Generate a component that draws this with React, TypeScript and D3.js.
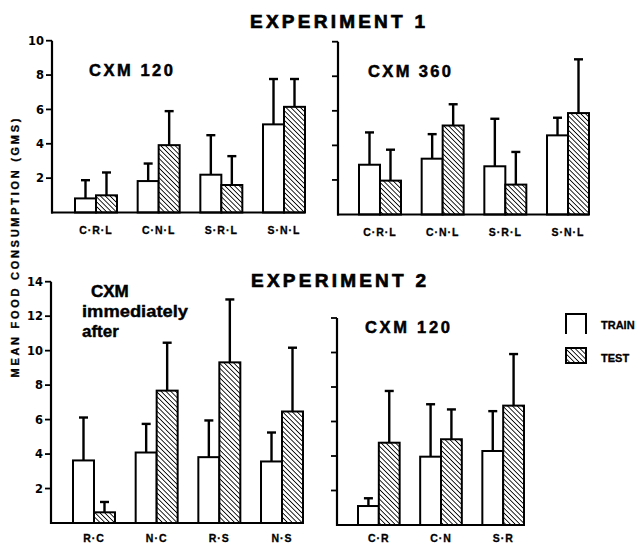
import React from "react";
import * as d3 from "d3";

// ---------- DATA ----------
const cats1 = ["C·R·L", "C·N·L", "S·R·L", "S·N·L"];
const e1a_train = [0.82, 1.83, 2.2, 5.13];
const e1a_trainUp = [1.88, 2.85, 4.5, 7.77];
const e1a_test = [1.0, 3.92, 1.6, 6.15];
const e1a_testUp = [2.33, 5.9, 3.28, 7.77];

const e1b_train = [2.88, 3.23, 2.79, 4.58];
const e1b_trainUp = [4.75, 4.65, 5.54, 5.6];
const e1b_test = [1.96, 5.15, 1.73, 5.87];
const e1b_testUp = [3.75, 6.38, 3.62, 8.98];

const cats2a = ["R·C", "N·C", "R·S", "N·S"];
const e2a_train = [3.63, 4.09, 3.82, 3.57];
const e2a_trainUp = [6.12, 5.75, 5.95, 5.25];
const e2a_test = [0.62, 7.68, 9.32, 6.47];
const e2a_testUp = [1.22, 10.46, 12.97, 10.17];

const cats2b = ["C·R", "C·N", "S·R"];
const e2b_train = [1.1, 3.96, 4.29];
const e2b_trainUp = [1.55, 7.0, 6.6];
const e2b_test = [4.77, 4.97, 6.92];
const e2b_testUp = [7.77, 6.7, 9.91];

const ticks1 = [2, 4, 6, 8, 10];
const ticks2a = [2, 4, 6, 8, 10, 12, 14];
const ticks2b = [2, 4, 6, 8, 10, 12];

const FONT = "'Liberation Sans', Arial, Helvetica, sans-serif";
const FONT2 = "'DejaVu Sans', 'Liberation Sans', sans-serif";

type PanelProps = {
  cats: string[];
  train: number[];
  trainUp: number[];
  test: number[];
  testUp: number[];
  axisX: number;
  axisEnd: number;
  barStart: number;
  barEnd: number;
  y0: number;
  yTop: number;
  yMax: number;
  ticks: number[];
  showLabels: boolean;
  labelY: number;
};

function Panel(p: PanelProps) {
  const y = d3.scaleLinear().domain([0, p.yMax]).range([p.y0, p.yTop]);
  const x = d3
    .scaleBand<string>()
    .domain(p.cats)
    .range([p.barStart, p.barEnd])
    .paddingInner(0.33)
    .paddingOuter(0);
  const bw = x.bandwidth() / 2;
  const cap = 4.5;
  const elems: React.ReactNode[] = [];
  p.cats.forEach((c, i) => {
    const gx = x(c)!;
    const series = [
      { v: p.train[i], up: p.trainUp[i], fill: "#fff", x0: gx },
      { v: p.test[i], up: p.testUp[i], fill: "url(#hatch)", x0: gx + bw },
    ];
    series.forEach((s, j) => {
      const cx = s.x0 + bw / 2;
      elems.push(
        <g key={c + j}>
          <line x1={cx} x2={cx} y1={y(s.v)} y2={y(s.up)} stroke="#000" strokeWidth={2.4} />
          <line x1={cx - cap} x2={cx + cap} y1={y(s.up)} y2={y(s.up)} stroke="#000" strokeWidth={2.4} />
          <rect
            x={s.x0}
            y={y(s.v)}
            width={bw}
            height={p.y0 - y(s.v)}
            fill={s.fill}
            stroke="#000"
            strokeWidth={2}
          />
        </g>
      );
    });
    elems.push(
      <text
        key={c + "lab"}
        x={gx + x.bandwidth() / 2}
        y={p.labelY}
        textAnchor="middle"
        fontFamily={FONT}
        fontWeight="bold"
        fontSize={10.5}
        letterSpacing={1}
        stroke="#000"
        strokeWidth={0.3}
      >
        {c}
      </text>
    );
  });
  return (
    <g>
      {elems}
      <line x1={p.axisX} x2={p.axisX} y1={p.y0 + 1} y2={y(p.yMax)} stroke="#000" strokeWidth={2.2} />
      <line x1={p.axisX - 1} x2={p.axisEnd} y1={p.y0} y2={p.y0} stroke="#000" strokeWidth={2.2} />
      {p.ticks.map((t) => (
        <g key={"t" + t}>
          <line x1={p.axisX - 6} x2={p.axisX} y1={y(t)} y2={y(t)} stroke="#000" strokeWidth={1.8} />
          {p.showLabels && (
            <text
              x={p.axisX - 8}
              y={y(t)}
              dy="0.36em"
              textAnchor="end"
              fontFamily={FONT2}
              fontWeight="bold"
              fontSize={11.5}
            >
              {t}
            </text>
          )}
        </g>
      ))}
    </g>
  );
}

export default function App() {
  const T = { fontFamily: FONT, fontWeight: "bold" as const };
  return (
    <svg width={644} height={545} style={{ position: "absolute", left: 0, top: 0, background: "#fff" }}>
      <defs>
        <pattern id="hatch" width={3.4} height={3.4} patternUnits="userSpaceOnUse" patternTransform="rotate(-45)">
          <rect width={3.4} height={3.4} fill="#fff" />
          <line x1={0} y1={0} x2={0} y2={3.4} stroke="#000" strokeWidth={1.7} />
        </pattern>
      </defs>
      <rect width={644} height={545} fill="#fff" />

      <text x={250} y={28} {...T} fontSize={19} textLength={175} lengthAdjust="spacing" stroke="#000" strokeWidth={0.7}>
        EXPERIMENT 1
      </text>
      <text x={251} y={287} {...T} fontSize={19} textLength={175} lengthAdjust="spacing" stroke="#000" strokeWidth={0.7}>
        EXPERIMENT 2
      </text>

      <text
        transform="translate(18.5,248) rotate(-90)"
        textAnchor="middle"
        {...T}
        fontSize={11}
        textLength={259}
        lengthAdjust="spacing"
        stroke="#000"
        strokeWidth={0.3}
      >
        MEAN FOOD CONSUMPTION (GMS)
      </text>

      <Panel
        cats={cats1}
        train={e1a_train}
        trainUp={e1a_trainUp}
        test={e1a_test}
        testUp={e1a_testUp}
        axisX={52}
        axisEnd={305}
        barStart={75}
        barEnd={305}
        y0={212.5}
        yTop={40.7}
        yMax={10}
        ticks={ticks1}
        showLabels={true}
        labelY={234}
      />
      <Panel
        cats={cats1}
        train={e1b_train}
        trainUp={e1b_trainUp}
        test={e1b_test}
        testUp={e1b_testUp}
        axisX={338}
        axisEnd={589}
        barStart={359}
        barEnd={589}
        y0={214.5}
        yTop={41.7}
        yMax={10}
        ticks={ticks1}
        showLabels={false}
        labelY={236}
      />
      <Panel
        cats={cats2a}
        train={e2a_train}
        trainUp={e2a_trainUp}
        test={e2a_test}
        testUp={e2a_testUp}
        axisX={51}
        axisEnd={303}
        barStart={73}
        barEnd={303}
        y0={523}
        yTop={281.7}
        yMax={14}
        ticks={ticks2a}
        showLabels={true}
        labelY={542}
      />
      <Panel
        cats={cats2b}
        train={e2b_train}
        trainUp={e2b_trainUp}
        test={e2b_test}
        testUp={e2b_testUp}
        axisX={337}
        axisEnd={524}
        barStart={358}
        barEnd={524}
        y0={525}
        yTop={318}
        yMax={12}
        ticks={ticks2b}
        showLabels={false}
        labelY={542}
      />

      <text x={89} y={76} {...T} fontSize={16.5} textLength={84} lengthAdjust="spacing" stroke="#000" strokeWidth={0.5}>CXM  120</text>
      <text x={368} y={77} {...T} fontSize={16.5} textLength={83} lengthAdjust="spacing" stroke="#000" strokeWidth={0.5}>CXM  360</text>
      <text x={365} y={333} {...T} fontSize={16.5} textLength={85} lengthAdjust="spacing" stroke="#000" strokeWidth={0.5}>CXM  120</text>
      <text x={91} y={297} {...T} fontSize={17} stroke="#000" strokeWidth={0.5}>CXM</text>
      <text x={82} y={317} {...T} fontSize={17} textLength={106} lengthAdjust="spacingAndGlyphs" stroke="#000" strokeWidth={0.4}>immediately</text>
      <text x={82} y={337} {...T} fontSize={17} stroke="#000" strokeWidth={0.4}>after</text>

      <path d="M566,334 V314 H586 V334" fill="none" stroke="#000" strokeWidth={2} />
      <rect x={566} y={348} width={20} height={15} fill="url(#hatch)" stroke="#000" strokeWidth={2} />
      <text x={601} y={328.5} {...T} fontSize={11} stroke="#000" strokeWidth={0.3}>TRAIN</text>
      <text x={601} y={362} {...T} fontSize={11} stroke="#000" strokeWidth={0.3}>TEST</text>
    </svg>
  );
}
